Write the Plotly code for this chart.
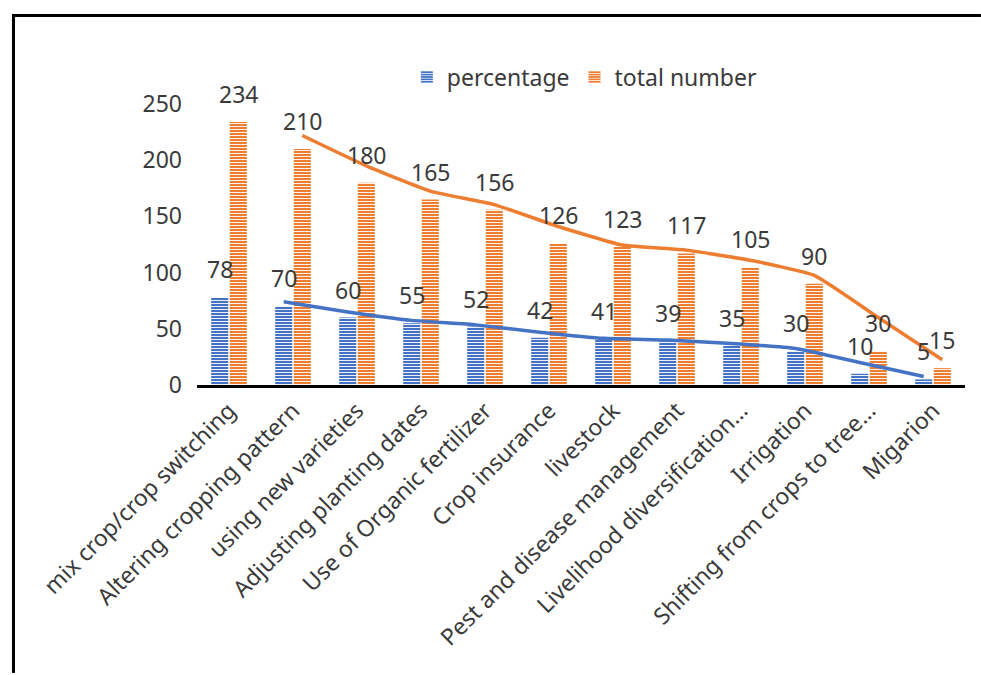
import base64
import struct
import zlib

import plotly.graph_objects as go

categories = ["mix crop/crop switching", "Altering cropping pattern", "using new varieties",
              "Adjusting planting dates", "Use of Organic fertilizer", "Crop insurance",
              "livestock", "Pest and disease management", "Livelihood diversification\u2026",
              "Irrigation", "Shifting from crops to tree\u2026", "Migarion"]
percentage = [78, 70, 60, 55, 52, 42, 41, 39, 35, 30, 10, 5]
total_number = [234, 210, 180, 165, 156, 126, 123, 117, 105, 90, 30, 15]
y_ticks = [0, 50, 100, 150, 200, 250]

BLUE = "#4472C4"
ORANGE = "#ED7D31"
TEXT = "#3a3a3a"
FONT = "Noto Sans"
OFF = 0.145

idx = list(range(len(categories)))


def moving_avg(vals):
    return [(vals[i - 1] + vals[i]) / 2 for i in range(1, len(vals))]


def black_png():
    def chunk(tag, data):
        c = struct.pack(">I", len(data)) + tag + data
        return c + struct.pack(">I", zlib.crc32(tag + data) & 0xffffffff)
    raw = b"\x00\x00\x00\x00"
    png = (b"\x89PNG\r\n\x1a\n" + chunk(b"IHDR", struct.pack(">IIBBBBB", 1, 1, 8, 2, 0, 0, 0))
           + chunk(b"IDAT", zlib.compress(raw)) + chunk(b"IEND", b""))
    return "data:image/png;base64," + base64.b64encode(png).decode()


fig = go.Figure()
for name, vals, col in [("percentage", percentage, BLUE), ("total number", total_number, ORANGE)]:
    fig.add_trace(go.Bar(
        x=idx, y=vals, name=name,
        marker=dict(color=col, line=dict(width=0),
                    pattern=dict(shape="-", fgcolor="white", bgcolor=col,
                                 fillmode="replace", size=3, solidity=0.3)),
    ))

fig.add_trace(go.Scatter(x=[i - OFF for i in idx[1:]], y=moving_avg(percentage), mode="lines",
                         line=dict(color=BLUE, width=3.5, shape="spline", smoothing=0.4),
                         showlegend=False, hoverinfo="skip"))
fig.add_trace(go.Scatter(x=[i + OFF for i in idx[1:]], y=moving_avg(total_number), mode="lines",
                         line=dict(color=ORANGE, width=3.5, shape="spline", smoothing=0.4),
                         showlegend=False, hoverinfo="skip"))

annotations = []
for i in idx:
    for vals, off in [(percentage, -OFF), (total_number, OFF)]:
        annotations.append(dict(x=i + off, y=vals[i], text=str(vals[i]), showarrow=False,
                                xref="x", yref="y", yanchor="middle", yshift=28,
                                font=dict(family=FONT, size=23, color=TEXT)))

fig.update_layout(
    width=981, height=675,
    margin=dict(l=197, r=16, t=104, b=290),
    paper_bgcolor="white", plot_bgcolor="white",
    barmode="group", bargap=0.42, bargroupgap=0.08,
    font=dict(family=FONT, size=23, color=TEXT),
    legend=dict(orientation="h", x=0.505, xanchor="center", y=1.096, yanchor="middle",
                font=dict(family=FONT, size=23, color=TEXT), itemwidth=30),
    annotations=annotations,
    shapes=[
        dict(type="line", xref="paper", yref="paper", x0=-0.239, x1=1.0208, y0=1.315, y1=1.315,
             line=dict(color="black", width=3), layer="above"),
    ],
    images=[dict(source=black_png(), xref="paper", yref="paper", x=-0.2409, y=1.3203,
                 sizex=0.0039, sizey=2.345, sizing="stretch", xanchor="left", yanchor="top",
                 layer="above")],
)
fig.update_xaxes(range=[-0.5, len(categories) - 0.5], tickvals=idx, ticktext=categories,
                 tickangle=-45, showgrid=False, zeroline=False, showline=True,
                 linecolor="black", linewidth=3, ticks="",
                 tickfont=dict(family=FONT, size=23, color=TEXT))
fig.update_yaxes(range=[0, 250], tickvals=y_ticks, showgrid=False, zeroline=False,
                 showline=False, ticks="", ticklabelstandoff=14,
                 tickfont=dict(family=FONT, size=23, color=TEXT))

fig.write_html("out.html")
